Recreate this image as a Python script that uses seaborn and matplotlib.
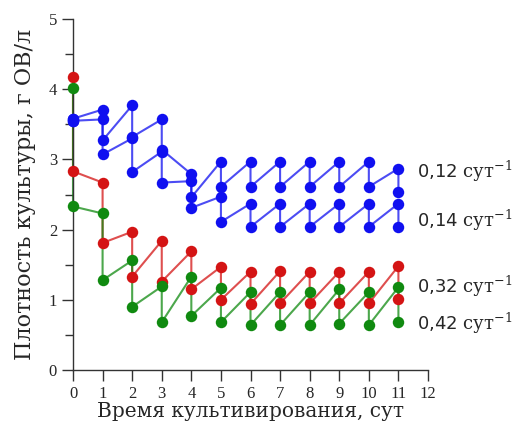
import numpy as np
import pandas as pd
import seaborn as sns
import matplotlib.pyplot as plt

# days of cultivation
days = list(range(12))

# culture density before (high) and after (low) daily dilution, g OV/l
d012_high = [3.58, 3.71, 3.77, 3.57, 2.79, 2.97, 2.97, 2.97, 2.97, 2.97, 2.97, 2.87]
d012_low = [3.58, 3.27, 3.32, 3.14, 2.46, 2.61, 2.61, 2.61, 2.61, 2.61, 2.61, 2.53]
d014_high = [3.55, 3.57, 3.30, 3.11, 2.69, 2.47, 2.37, 2.37, 2.37, 2.37, 2.37, 2.37]
d014_low = [3.55, 3.07, 2.82, 2.67, 2.31, 2.11, 2.04, 2.04, 2.04, 2.04, 2.04, 2.04]
d032_high = [4.17, 2.67, 1.97, 1.84, 1.69, 1.47, 1.40, 1.41, 1.40, 1.40, 1.40, 1.48]
d032_low = [2.83, 1.81, 1.33, 1.26, 1.15, 1.00, 0.94, 0.95, 0.95, 0.95, 0.95, 1.01]
d042_high = [4.01, 2.23, 1.56, 1.19, 1.33, 1.17, 1.11, 1.11, 1.11, 1.15, 1.11, 1.18]
d042_low = [2.33, 1.28, 0.90, 0.68, 0.77, 0.68, 0.64, 0.64, 0.64, 0.66, 0.64, 0.68]

labels = ["0,12", "0,14", "0,32", "0,42"]
colors = ["#1010f0", "#1010f0", "#d41414", "#108a10"]


def sawtooth(high, low, name):
    # path: high -> low at each day, then grows to next day's high
    xs, ys = [], []
    for t, h, l in zip(days, high, low):
        xs += [t, t]
        ys += [h, l]
    return pd.DataFrame({"day": xs, "density": ys, "rate": name})


frames = [
    sawtooth(d012_high, d012_low, labels[0]),
    sawtooth(d014_high, d014_low, labels[1]),
    sawtooth(d032_high, d032_low, labels[2]),
    sawtooth(d042_high, d042_low, labels[3]),
]

sns.set_style("ticks")
plt.rcParams["font.family"] = ["DejaVu Serif"]
plt.rcParams["mathtext.fontset"] = "dejavuserif"

fig = plt.figure(figsize=(5.13, 4.29), dpi=100)
ax = fig.add_axes([73 / 513, 59 / 429, 355 / 513, 351 / 429])

for df, col in zip(frames, colors):
    sns.lineplot(data=df, x="day", y="density", sort=False, estimator=None,
                 color=col, linewidth=1.5, alpha=0.75, ax=ax)
    sns.scatterplot(data=df, x="day", y="density", color=col, s=68,
                    edgecolor=col, linewidth=0, ax=ax, zorder=3, clip_on=False)
for line in ax.lines:
    line.set_clip_on(False)

ax.set_xlim(0, 12)
ax.set_ylim(0, 5)
ax.set_xticks(range(0, 13))
ax.set_yticks(range(0, 6))
ax.set_yticks(np.arange(0.5, 5, 1.0), minor=True)
ax.spines["left"].set_position(("data", 0))
ax.spines["bottom"].set_position(("data", 0))
sns.despine(ax=ax)
for s in ["left", "bottom"]:
    ax.spines[s].set_color("#333333")
    ax.spines[s].set_linewidth(1.0)
ax.tick_params(axis="both", which="major", length=8, width=1, color="#333333",
               direction="out", labelsize=12)
ax.tick_params(axis="y", which="minor", length=6, width=1, color="#333333",
               direction="out")
for lab in ax.get_xticklabels() + ax.get_yticklabels():
    lab.set_fontfamily("Liberation Serif")

ax.set_xlabel("Время культивирования, сут", fontsize=14.5, labelpad=0)
ax.set_ylabel("Плотность культуры, г ОВ/л", fontsize=16, labelpad=9)

label_y = [2.83, 2.13, 1.19, 0.67]
for lab, yy in zip(labels, label_y):
    ax.text(11.63, yy, r"$\mathsf{" + lab.replace(",", "{,}") + r"}$ сут$^{-1}$",
            fontsize=13, va="center", ha="left", clip_on=False)

fig.savefig("out.png", dpi=100)
